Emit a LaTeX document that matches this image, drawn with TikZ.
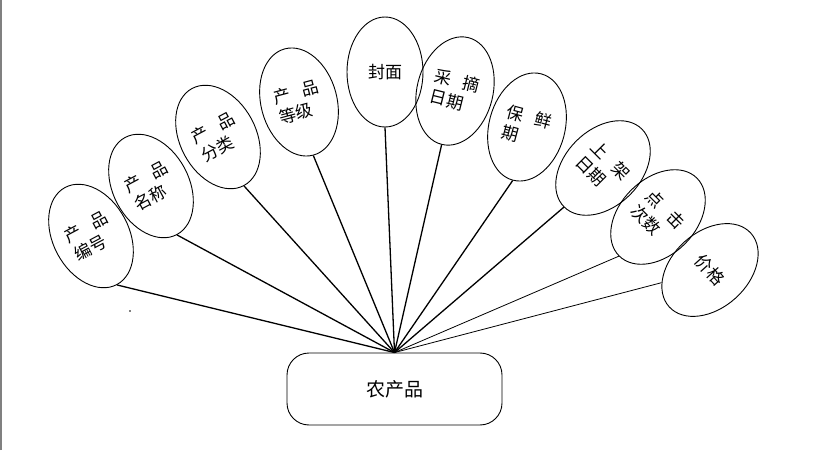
\documentclass[tikz,border=0pt]{standalone}
\usepackage{fontspec}
\setmainfont{Noto Sans CJK SC}
\usetikzlibrary{shapes.geometric}

\begin{document}
\begin{tikzpicture}[x=1pt,y=1pt,line join=round,
  attr/.style={ellipse,draw,line width=0.9pt,inner sep=0pt,minimum width=76pt,minimum height=110pt,
    align=left,font=\fontsize{17}{21}\selectfont},
  entity/.style={draw,line width=0.9pt,rounded corners=22pt,minimum width=215pt,minimum height=72pt,
    font=\fontsize{19}{22}\selectfont},
  thickline/.style={line width=1.3pt},
  thinline/.style={line width=0.8pt}]
  \useasboundingbox (0,0) rectangle (824,450);
  \draw[gray,line width=2pt] (1,0) -- (1,450);
  \fill (130,139) circle (0.8pt);
  % the entity and the point where all the lines meet
  \node[entity] (farm) at (394.5,61) {农产品};
  \coordinate (hub) at (farm.north);
  % attributes, left to right
  \foreach \n/\x/\y/\r/\t in {1/91/214/28/{产\hspace{.7em}品\\编号},
      2/151/264/28/{产\hspace{.7em}品\\名称},
      3/218/313/28/{产\hspace{.7em}品\\分类},
      4/299/348/15/{产\hspace{.7em}品\\等级},
      5/385/378/0/{封面},
      6/455/359/-14/{采\hspace{.7em}摘\\日期},
      7/527/323/-15/{保\hspace{.7em}鲜\\期},
      8/603/282/-45/{上\hspace{.7em}架\\日期},
      9/658/233/-45/{点\hspace{.7em}击\\次数},
      10/710/180/-48/{价格}}{
    \node[attr,rotate=\r] (a\n) at (\x,\y) {\t};
  }
  \foreach \n in {1,...,8}{\draw[thickline] (a\n.south) -- (hub);}
  \draw[thinline] (a9.south) -- (hub);
  \draw[thinline] (a10) -- (hub);
\end{tikzpicture}
\end{document}
